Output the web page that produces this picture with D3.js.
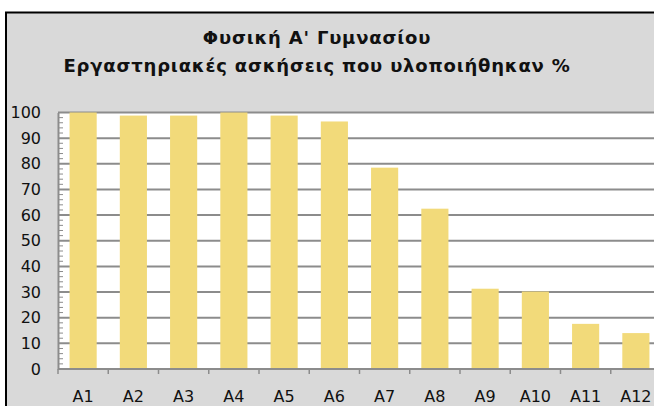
<!DOCTYPE html>
<html>
<head>
    <meta charset="utf-8">
    <title>Φυσική Α' Γυμνασίου</title>
    <script src="https://d3js.org/d3.v7.min.js"></script>
    <style>
        body { margin: 0; background: #fff; }
        text { font-family: "DejaVu Sans", Verdana, sans-serif; fill: #111; }
    </style>
</head>
<body>
    <div id="vis"></div>
    <script>
        var categories = ["A1", "A2", "A3", "A4", "A5", "A6", "A7", "A8", "A9", "A10", "A11", "A12"];
        var values = [100, 98.8, 98.8, 100, 98.8, 96.5, 78.5, 62.5, 31.3, 30.2, 17.6, 14.0];
        var yTicks = [0, 10, 20, 30, 40, 50, 60, 70, 80, 90, 100];
        var titleLines = ["Φυσική Α' Γυμνασίου", "Εργαστηριακές ασκήσεις που υλοποιήθηκαν %"];

        var W = 654, H = 406;
        var plot = {left: 58, right: 661, top: 112.5, bottom: 369};

        var svg = d3.select("#vis").append("svg")
            .attr("width", W)
            .attr("height", H);

        // chart frame
        svg.append("rect")
            .attr("x", 6)
            .attr("y", 12.5)
            .attr("width", 700)
            .attr("height", 500)
            .attr("fill", "#d9d9d9")
            .attr("stroke", "#000")
            .attr("stroke-width", 2);

        // title
        svg.selectAll("text.title")
            .data(titleLines)
            .enter()
            .append("text")
            .attr("class", "title")
            .attr("x", 317)
            .attr("y", function(d, i) { return 44 + i * 28; })
            .attr("text-anchor", "middle")
            .attr("font-size", "18px")
            .attr("font-weight", "bold")
            .attr("letter-spacing", "0.8px")
            .text(function(d) { return d; });

        var xScale = d3.scaleBand()
            .domain(categories)
            .range([plot.left, plot.right])
            .padding(0);

        var yScale = d3.scaleLinear()
            .domain([0, 100])
            .range([plot.bottom, plot.top]);

        // plot area
        svg.append("rect")
            .attr("x", plot.left)
            .attr("y", plot.top)
            .attr("width", plot.right - plot.left)
            .attr("height", plot.bottom - plot.top)
            .attr("fill", "#fff");

        // gridlines
        svg.selectAll("line.grid")
            .data(yTicks.filter(function(d) { return d > 0; }))
            .enter()
            .append("line")
            .attr("class", "grid")
            .attr("x1", plot.left)
            .attr("x2", plot.right)
            .attr("y1", function(d) { return yScale(d); })
            .attr("y2", function(d) { return yScale(d); })
            .attr("stroke", "#8c8c8c")
            .attr("stroke-width", 2);

        // bars
        var barW = xScale.bandwidth() * 0.54;
        svg.selectAll("rect.bar")
            .data(values)
            .enter()
            .append("rect")
            .attr("class", "bar")
            .attr("x", function(d, i) { return xScale(categories[i]) + (xScale.bandwidth() - barW) / 2; })
            .attr("y", function(d) { return yScale(d); })
            .attr("width", barW)
            .attr("height", function(d) { return yScale(0) - yScale(d); })
            .attr("fill", "#f2da7a");

        // y axis
        var minor = d3.range(0, 101, 2).filter(function(d) { return d % 10 !== 0; });
        svg.selectAll("line.minor")
            .data(minor)
            .enter()
            .append("line")
            .attr("class", "minor")
            .attr("x1", plot.left)
            .attr("x2", plot.left + 5)
            .attr("y1", function(d) { return yScale(d); })
            .attr("y2", function(d) { return yScale(d); })
            .attr("stroke", "#8c8c8c")
            .attr("stroke-width", 1);

        var yAxis = svg.append("g")
            .attr("transform", "translate(" + plot.left + ",0)")
            .call(d3.axisLeft(yScale).tickValues(yTicks).tickSize(0).tickPadding(17));
        yAxis.select(".domain").attr("stroke", "#8c8c8c").attr("stroke-width", 2);
        yAxis.selectAll("text")
            .style("font-family", "'DejaVu Sans', Verdana, sans-serif")
            .attr("font-size", "16px")
            .attr("fill", "#111");

        // x axis
        svg.append("line")
            .attr("x1", plot.left)
            .attr("x2", plot.right)
            .attr("y1", plot.bottom)
            .attr("y2", plot.bottom)
            .attr("stroke", "#8c8c8c")
            .attr("stroke-width", 2);

        svg.selectAll("line.xtick")
            .data(categories)
            .enter()
            .append("line")
            .attr("class", "xtick")
            .attr("x1", function(d) { return xScale(d); })
            .attr("x2", function(d) { return xScale(d); })
            .attr("y1", plot.bottom)
            .attr("y2", plot.bottom + 5)
            .attr("stroke", "#8c8c8c")
            .attr("stroke-width", 1.5);

        svg.selectAll("text.xlabel")
            .data(categories)
            .enter()
            .append("text")
            .attr("class", "xlabel")
            .attr("x", function(d) { return xScale(d) + xScale.bandwidth() / 2; })
            .attr("y", 401.5)
            .attr("text-anchor", "middle")
            .attr("font-size", "16px")
            .text(function(d) { return d; });
    </script>
</body>
</html>
